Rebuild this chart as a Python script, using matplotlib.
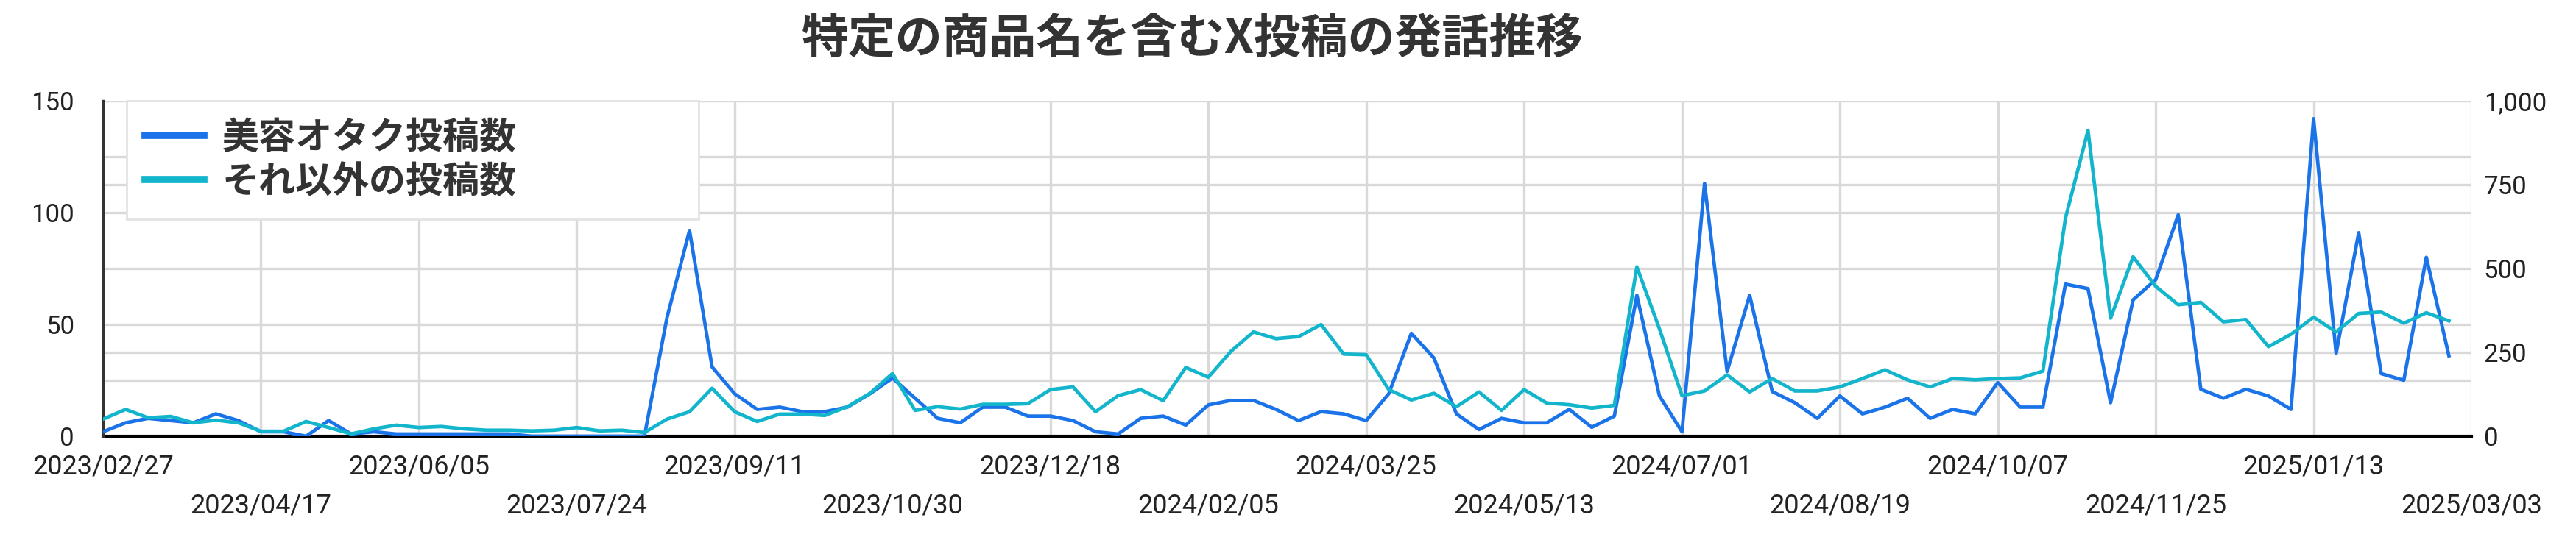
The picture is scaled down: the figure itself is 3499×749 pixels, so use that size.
import numpy as np
import pandas as pd
import matplotlib
matplotlib.use('Agg')
import matplotlib.pyplot as plt
from matplotlib.ticker import FixedLocator, FuncFormatter

# weekly counts, first week 2023/02/27
otaku_posts = [2, 6, 8, 7, 6, 10, 7, 2, 2, 0, 7, 1, 2, 1, 1, 1, 1, 1, 1, 0,
               0, 0, 0, 0, 0, 53, 92, 31, 19, 12, 13, 11, 11, 13, 19, 26, 17, 8, 6, 13,
               13, 9, 9, 7, 2, 1, 8, 9, 5, 14, 16, 16, 12, 7, 11, 10, 7, 19, 46, 35,
               10, 3, 8, 6, 6, 12, 4, 9, 63, 18, 2, 113, 29, 63, 20, 15, 8, 18, 10, 13,
               17, 8, 12, 10, 24, 13, 13, 68, 66, 15, 61, 70, 99, 21, 17, 21, 18, 12, 142, 37,
               91, 28, 25, 80, 36]
other_posts = [51, 80, 55, 59, 40, 48, 40, 15, 15, 44, 26, 7, 22, 33, 26, 29, 22, 18, 18, 16,
               18, 26, 16, 18, 11, 51, 73, 143, 73, 44, 66, 66, 62, 88, 128, 187, 77, 88, 81, 95,
               95, 97, 139, 147, 73, 121, 139, 106, 205, 176, 253, 311, 291, 297, 333, 245, 243, 139, 108, 128,
               88, 132, 77, 139, 99, 94, 84, 92, 505, 320, 121, 135, 183, 132, 172, 135, 135, 147, 172, 198,
               168, 147, 172, 168, 172, 174, 194, 650, 912, 352, 535, 447, 392, 399, 341, 348, 267, 304, 355, 311,
               366, 370, 337, 368, 344]
weeks = pd.date_range('2023-02-27', periods=len(otaku_posts), freq='7D')

tick_dates = pd.date_range('2023-02-27', '2025-03-03', freq='49D')
tick_labels = [d.strftime('%Y/%m/%d') for d in tick_dates]
left_ticks = [0, 50, 100, 150]
right_ticks = [0, 250, 500, 750, 1000]
left_max = 150
right_max = 1000

title = '特定の商品名を含むX投稿の発話推移'
label_otaku = '美容オタク投稿数'
label_other = 'それ以外の投稿数'

blue = '#1a73e8'
teal = '#12b5cb'
grid_c = '#d9d9d9'
text_c = '#222222'
cjk = ['Noto Sans CJK JP', 'DejaVu Sans']

fig = plt.figure(figsize=(34.99, 7.49), dpi=100)
ax = fig.add_axes([0.04001, 0.20828, 0.91941, 0.60881])
ax2 = ax.twinx()

ax.plot(weeks, otaku_posts, color=blue, lw=3.4, label=label_otaku, zorder=3)
ax2.plot(weeks, other_posts, color=teal, lw=3.4, label=label_other, zorder=3)

ax.set_xlim(tick_dates[0], tick_dates[-1])
ax.set_ylim(0, left_max)
ax2.set_ylim(0, right_max)

# x ticks: two staggered rows
ax.set_xticks(tick_dates[::2], tick_labels[::2])
ax.set_xticks(tick_dates[1::2], tick_labels[1::2], minor=True)
ax.tick_params(axis='x', which='major', length=0, pad=17, labelsize=26, labelcolor=text_c)
ax.tick_params(axis='x', which='minor', length=0, pad=55, labelsize=26, labelcolor=text_c)
for lab in ax.get_xticklabels(minor=True) + ax.get_xticklabels():
    lab.set_fontfamily('Roboto')

# y ticks, gridlines from both scales drawn on the lower axes
ax.set_yticks(left_ticks)
grid_vals = sorted(set(np.arange(0, left_max + 1, 25)) |
                   set(np.array(right_ticks) * left_max / right_max))
ax.yaxis.set_minor_locator(FixedLocator(grid_vals))
ax.tick_params(axis='y', which='both', length=0, pad=28, labelsize=25, labelcolor=text_c)
ax2.set_yticks(right_ticks)
ax2.yaxis.set_major_formatter(FuncFormatter(lambda v, p: f'{int(v):,}'))
ax2.tick_params(axis='y', length=0, pad=12, labelsize=25, labelcolor=text_c)
for lab in ax.get_yticklabels() + ax2.get_yticklabels():
    lab.set_fontfamily('Roboto')

ax.grid(True, which='both', color=grid_c, lw=2.4, zorder=0)
ax.set_axisbelow(True)

for a in (ax, ax2):
    for s in a.spines.values():
        s.set_visible(False)
ax.spines['left'].set_visible(True)
ax.spines['left'].set_linewidth(2.5)
ax.spines['left'].set_color('#333333')
ax.spines['bottom'].set_visible(True)
ax.spines['bottom'].set_linewidth(3)
ax.spines['bottom'].set_color('black')
ax.spines['bottom'].set_zorder(2)

h1, l1 = ax.get_legend_handles_labels()
h2, l2 = ax2.get_legend_handles_labels()
leg = ax2.legend(h1 + h2, l1 + l2, loc='upper left', bbox_to_anchor=(0.0099, 0.658, 0.2416, 0.342),
                 mode='expand', prop={'family': cjk, 'size': 36, 'weight': 'bold'},
                 frameon=True, fancybox=False, framealpha=1, edgecolor='#e3e3e3',
                 borderpad=0.5, labelspacing=0.18, handlelength=1.6, handletextpad=0.5,
                 borderaxespad=0)
leg.get_frame().set_linewidth(2)
for t in leg.get_texts():
    t.set_color('#333333')
for l in leg.get_lines():
    l.set_linewidth(7)

fig.text(0.463, 0.929, title, ha='center', va='center', fontsize=46, fontweight='bold',
         family=cjk, color='#333333')

fig.savefig('out.png', dpi=100)
